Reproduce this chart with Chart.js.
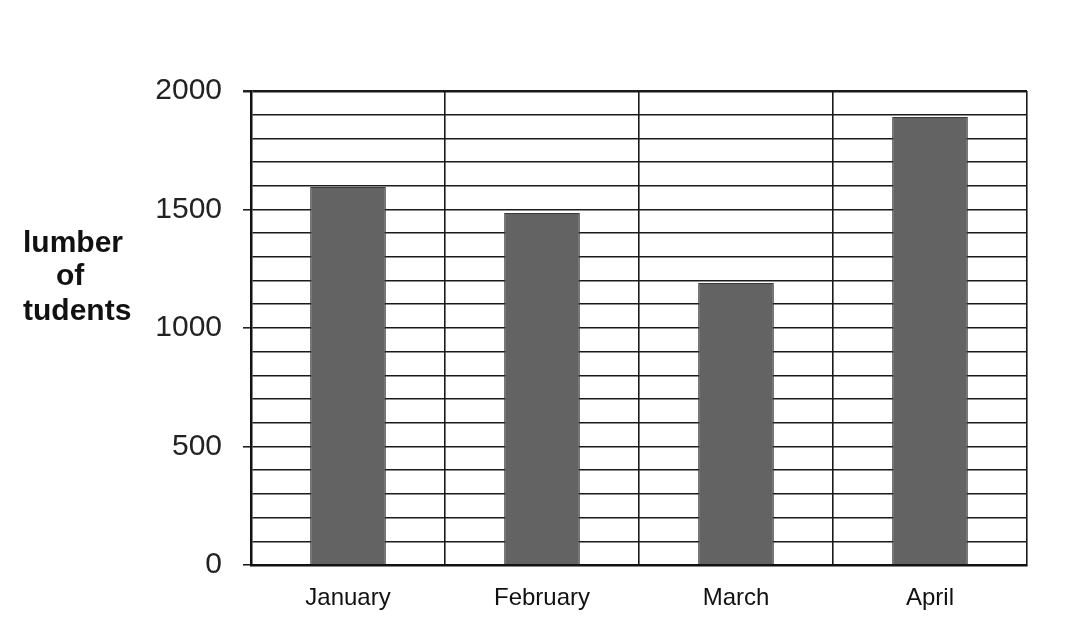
<!DOCTYPE html>
<html>
<head>
<meta charset="utf-8">
<script src="https://cdn.jsdelivr.net/npm/chart.js@4/dist/chart.umd.min.js"></script>
<style>
  html, body { margin: 0; padding: 0; background: #ffffff; }
  canvas { display: block; }
</style>
</head>
<body>
<canvas id="c" width="1069" height="635"></canvas>
<script>
const categories = ["January", "February", "March", "April"];
const students = [1595, 1485, 1190, 1890];
const yTickLabels = [0, 500, 1000, 1500, 2000];
const axisTitleLines = ["lumber", "of", "tudents"];

const FONT = "'Liberation Sans', Arial, Helvetica, sans-serif";

const axisTitlePlugin = {
  id: 'axisTitle',
  afterDraw(chart) {
    const ctx = chart.ctx;
    ctx.save();
    ctx.fillStyle = '#111';
    ctx.font = "bold 30px " + FONT;
    ctx.textBaseline = 'alphabetic';
    ctx.textAlign = 'left';
    const pos = [[23, 252], [56, 285], [23, 320]];
    axisTitleLines.forEach((t, i) => ctx.fillText(t, pos[i][0], pos[i][1]));
    ctx.restore();
  }
};

new Chart(document.getElementById('c'), {
  type: 'bar',
  data: {
    labels: categories,
    datasets: [{
      data: students,
      backgroundColor: '#636363',
      borderColor: '#3a3a3a',
      borderWidth: 1,
      barPercentage: 0.39,
      categoryPercentage: 1.0
    }]
  },
  options: {
    responsive: false,
    animation: false,
    layout: { padding: { left: 0, right: 42, top: 91, bottom: 0 } },
    plugins: { legend: { display: false }, tooltip: { enabled: false } },
    scales: {
      x: {
        offset: true,
        afterFit(scale) { scale.height = 70; },
        grid: {
          offset: true,
          drawTicks: false,
          color: '#1a1a1a',
          lineWidth: 1.6
        },
        border: { display: true, color: '#111', width: 2.5 },
        ticks: {
          color: '#111',
          font: { family: FONT, size: 24 },
          padding: 19
        }
      },
      y: {
        min: 0,
        max: 2000,
        afterFit(scale) { scale.width = 251; },
        grid: {
          color: '#1a1a1a',
          lineWidth: (ctx) => (ctx.tick && ctx.tick.value === 2000 ? 2.5 : 1.6),
          tickLength: 8,
          tickColor: (ctx) => (ctx.tick && yTickLabels.includes(ctx.tick.value) ? '#222' : 'rgba(0,0,0,0)')
        },
        border: { display: true, color: '#111', width: 2.5 },
        ticks: {
          stepSize: 100,
          maxTicksLimit: 21,
          autoSkip: false,
          color: '#222',
          padding: 21,
          font: { family: FONT, size: 30 },
          callback: (v) => (yTickLabels.includes(v) ? String(v) : '')
        }
      }
    }
  },
  plugins: [axisTitlePlugin]
});
</script>
</body>
</html>
